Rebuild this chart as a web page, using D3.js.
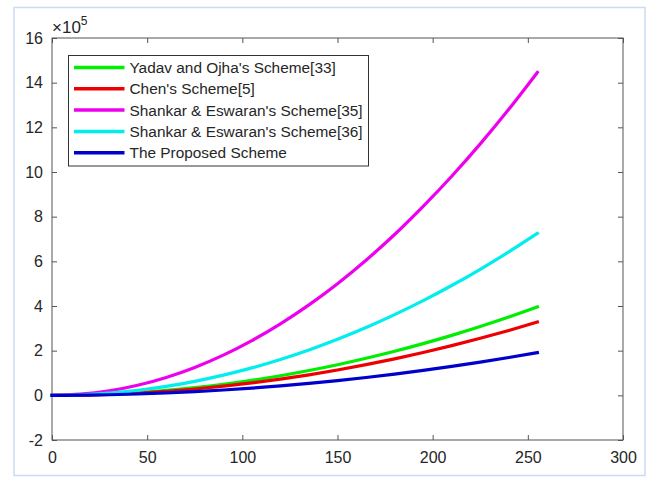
<!DOCTYPE html>
<html>
<head>
<meta charset="utf-8">
<script src="https://cdn.jsdelivr.net/npm/d3@7"></script>
<style>
  html, body { margin: 0; padding: 0; background: #fff; }
  svg { display: block; font-family: "Liberation Sans", Arial, sans-serif; }
</style>
</head>
<body>
<script>
// x samples (block size or similar) and cost values
const xs = [0, 15, 30, 45, 60, 75, 90, 105, 120, 135, 150, 165, 180, 195, 210, 225, 240, 255];

const yadav = [0, 1400, 5500, 12300, 21900, 34300, 49300, 67100, 87700, 111000, 137000, 165800, 197300, 231600, 268600, 308300, 350800, 396000];
const chen = [0, 1100, 4500, 10200, 18200, 28400, 40900, 55600, 72600, 91900, 113500, 137300, 163400, 191800, 222500, 255400, 290500, 328000];
const shankar35 = [0, 5000, 20000, 45000, 80000, 125000, 180000, 245000, 320000, 405000, 500000, 605000, 720000, 846000, 981000, 1126000, 1281000, 1446000];
const shankar36 = [0, 2500, 10000, 22600, 40100, 62700, 90300, 122900, 160500, 203200, 250900, 303500, 361200, 424000, 491700, 564500, 642200, 725000];
const proposed = [0, 700, 2600, 5900, 10600, 16500, 23800, 32400, 42300, 53500, 66100, 80000, 95200, 111700, 129500, 148700, 169200, 191000];

const seriesNames = [
  "Yadav and Ojha's Scheme[33]",
  "Chen's Scheme[5]",
  "Shankar & Eswaran's Scheme[35]",
  "Shankar & Eswaran's Scheme[36]",
  "The Proposed Scheme"
];
const seriesValues = [yadav, chen, shankar35, shankar36, proposed];
const seriesColors = ["#00ee00", "#ee0000", "#ee00ee", "#00eeee", "#0000cc"];

const xTicks = [0, 50, 100, 150, 200, 250, 300];
const yTicks = [-2, 0, 2, 4, 6, 8, 10, 12, 14, 16];

const width = 656;
const height = 477;
const margin = { top: 38, right: 33, bottom: 37, left: 52 };
const innerW = width - margin.left - margin.right;
const innerH = height - margin.top - margin.bottom;

const svg = d3.select("body").append("svg")
  .attr("width", width)
  .attr("height", height);

// outer light-blue frame
svg.append("rect")
  .attr("x", 14)
  .attr("y", 7.5)
  .attr("width", 631)
  .attr("height", 468)
  .attr("fill", "#fff")
  .attr("stroke", "#c9dcf2")
  .attr("stroke-width", 1.5);

const g = svg.append("g")
  .attr("transform", `translate(${margin.left},${margin.top})`);

const x = d3.scaleLinear().domain([0, 300]).range([0, innerW]);
const y = d3.scaleLinear().domain([-2, 16]).range([innerH, 0]);

const axisColor = "#555";
const textColor = "#262626";
const fmt = d => String(d);

const styleAxis = sel => {
  sel.attr("font-family", null).attr("font-size", null);
  sel.select(".domain").remove();
  sel.selectAll("line").attr("stroke", axisColor);
  sel.selectAll("text")
    .attr("fill", textColor)
    .style("font-size", "16px");
};

g.append("g")
  .attr("transform", `translate(0,${innerH})`)
  .call(d3.axisBottom(x).tickValues(xTicks).tickSizeInner(-5).tickSizeOuter(0).tickPadding(12).tickFormat(fmt))
  .call(styleAxis);

g.append("g")
  .call(d3.axisTop(x).tickValues(xTicks).tickSizeInner(-5).tickSizeOuter(0).tickFormat(""))
  .call(styleAxis);

g.append("g")
  .call(d3.axisLeft(y).tickValues(yTicks).tickSizeInner(-5).tickSizeOuter(0).tickPadding(9).tickFormat(fmt))
  .call(styleAxis);

g.append("g")
  .attr("transform", `translate(${innerW},0)`)
  .call(d3.axisRight(y).tickValues(yTicks).tickSizeInner(-5).tickSizeOuter(0).tickFormat(""))
  .call(styleAxis);

// axes box
g.append("rect")
  .attr("width", innerW)
  .attr("height", innerH)
  .attr("fill", "none")
  .attr("stroke", axisColor)
  .attr("stroke-width", 1);

// exponent label
const expLabel = svg.append("text")
  .attr("x", 52)
  .attr("y", 33)
  .attr("fill", textColor)
  .style("font-size", "17px");
expLabel.append("tspan").text("×10");
expLabel.append("tspan")
  .attr("dy", -8)
  .style("font-size", "12px")
  .text("5");

const line = d3.line()
  .x((d, i) => x(xs[i]))
  .y(d => y(d / 1e5))
  .curve(d3.curveMonotoneX);

const lines = g.append("g");
seriesValues.forEach((vals, k) => {
  lines.append("path")
    .datum(vals)
    .attr("fill", "none")
    .attr("stroke", seriesColors[k])
    .attr("stroke-width", 3.2)
    .attr("stroke-linecap", "square")
    .attr("d", line);
});

// legend
const legend = svg.append("g")
  .attr("transform", "translate(68.5,55.5)");

legend.append("rect")
  .attr("width", 300)
  .attr("height", 110.5)
  .attr("fill", "#fff")
  .attr("stroke", "#333")
  .attr("stroke-width", 1);

seriesNames.forEach((name, k) => {
  const ly = 12 + k * 21.3;
  legend.append("line")
    .attr("x1", 5.5)
    .attr("x2", 56)
    .attr("y1", ly)
    .attr("y2", ly)
    .attr("stroke", seriesColors[k])
    .attr("stroke-width", 3.5);
  legend.append("text")
    .attr("x", 61)
    .attr("y", ly)
    .attr("dy", "0.36em")
    .attr("fill", textColor)
    .style("font-size", "15.4px")
    .text(name);
});
</script>
</body>
</html>
